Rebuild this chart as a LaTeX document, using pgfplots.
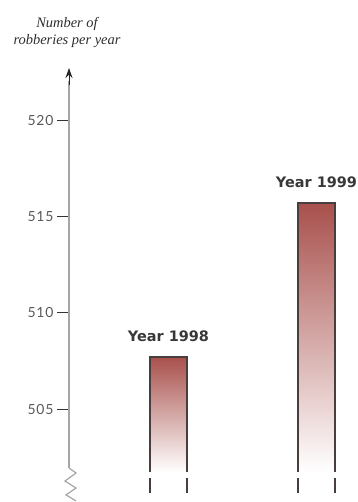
\documentclass[border=0pt]{standalone}
\usepackage{pgfplots}
\pgfplotsset{compat=1.18}
\usepackage{pgfplotstable}
\usetikzlibrary{arrows.meta}
\usepackage{fontspec}
\setmainfont{Liberation Serif}
\newfontfamily\tickfont[LetterSpace=6]{Lato}
\newfontfamily\labfont{DejaVu Sans}
\definecolor{bartop}{RGB}{168,80,76}
\definecolor{edge}{RGB}{72,62,62}
\definecolor{axisgray}{RGB}{165,165,165}
\begin{document}
\begin{tikzpicture}
\path[use as bounding box] (0,0) rectangle (358bp,502bp);
\begin{axis}[scale only axis, width=289bp, height=434bp,
  xmin=0.3277, xmax=2.2804, ymin=500.174, ymax=522.70,
  at={(69bp,0bp)}, anchor=south west, clip=false,
  hide x axis, axis line style={draw=none},
  every outer y axis line/.append style={draw=none},
  ytick pos=left,
  xtick=\empty, ytick={505,510,515,520},
  tick align=outside, major tick length=12bp,
  ytick style={draw=black!80, line width=0.9bp},
  yticklabel style={font=\tickfont\fontsize{14}{14}\selectfont, text=black!65},
  /pgf/number format/assume math mode=true]
% bars (value 1998 = 507.7, value 1999 = 515.7), base at broken axis 501.73
\addplot[draw=none, top color=bartop, bottom color=white] coordinates {(0.875,501.73) (0.875,507.7) (1.125,507.7) (1.125,501.73)} -- cycle;
\addplot[draw=none, top color=bartop, bottom color=white] coordinates {(1.875,501.73) (1.875,515.7) (2.125,515.7) (2.125,501.73)} -- cycle;
% y axis line
\addplot[draw=axisgray, line width=2.6bp, mark=none] coordinates {(0.3277,501.94) (0.3277,522.0)};
% arrow head
\addplot[draw=black!85, line width=1bp, mark=none, -{Stealth[length=10bp,width=7bp]}] coordinates {(0.3277,521.8) (0.3277,522.70)};
% zigzag break
\addplot[draw=black!35, line width=1.2bp, mark=none] coordinates {(0.3277,501.94) (0.375,501.68) (0.3007,501.26) (0.375,500.90) (0.3074,500.54) (0.375,500.23)};
% bar outlines
\addplot[draw=edge, line width=1.4bp, mark=none] coordinates {(0.875,501.73) (0.875,507.7) (1.125,507.7) (1.125,501.73)};
\addplot[draw=edge, line width=1.4bp, mark=none] coordinates {(1.875,501.73) (1.875,515.7) (2.125,515.7) (2.125,501.73)};
\addplot[draw=edge, line width=1.4bp, mark=none] coordinates {(0.875,501.42) (0.875,500.64)};
\addplot[draw=edge, line width=1.4bp, mark=none] coordinates {(1.125,501.42) (1.125,500.64)};
\addplot[draw=edge, line width=1.4bp, mark=none] coordinates {(1.875,501.42) (1.875,500.64)};
\addplot[draw=edge, line width=1.4bp, mark=none] coordinates {(2.125,501.42) (2.125,500.64)};
% labels
\node[anchor=base, yshift=15bp, font=\labfont\bfseries\fontsize{14.5}{15}\selectfont, text=black!78] at (axis cs:1,507.7) {Year 1998};
\node[anchor=base, yshift=15bp, font=\labfont\bfseries\fontsize{14.5}{15}\selectfont, text=black!78] at (axis cs:2,515.7) {Year 1999};
\node[anchor=base, xshift=-2bp, yshift=40bp, font=\itshape\fontsize{14.5}{17}\selectfont, text=black!82] at (axis cs:0.3277,522.70) {Number of};
\node[anchor=base, xshift=-2bp, yshift=23bp, font=\itshape\fontsize{14.5}{17}\selectfont, text=black!82] at (axis cs:0.3277,522.70) {robberies per year};
\end{axis}
\end{tikzpicture}
\end{document}
